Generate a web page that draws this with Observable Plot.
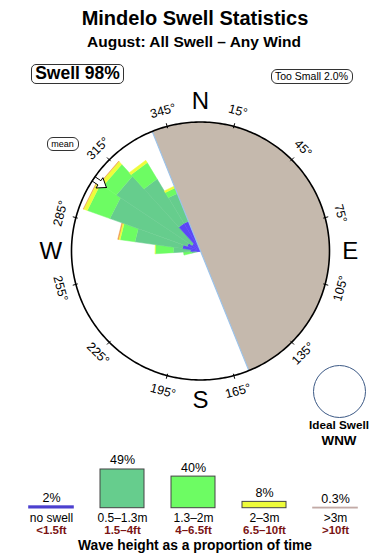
<!DOCTYPE html>
<html>
<head>
<meta charset="utf-8">
<script src="https://cdn.jsdelivr.net/npm/d3@7"></script>
<script src="https://cdn.jsdelivr.net/npm/@observablehq/plot@0.6"></script>
<style>
  html, body { margin: 0; padding: 0; background: #fff; }
  #wrap { position: relative; width: 390px; height: 560px; overflow: hidden;
          font-family: "Liberation Sans", Arial, Helvetica, sans-serif; color: #000; }
  .abs { position: absolute; white-space: nowrap; line-height: 1; }
  .center { transform: translateX(-50%); text-align: center; }
  .box { position: absolute; box-sizing: border-box; border: 1px solid #333; border-radius: 5px;
         display: flex; align-items: center; justify-content: center; line-height: 1; white-space: nowrap; }
</style>
</head>
<body>
<div id="wrap">
  <div class="abs center" style="left:195px; top:8px; font-size:20px; font-weight:bold;">Mindelo Swell Statistics</div>
  <div class="abs center" style="left:194px; top:33.5px; font-size:15.5px; font-weight:bold;">August: All Swell – Any Wind</div>
  <div class="box" style="left:31px; top:63.5px; width:93px; height:20.5px; font-size:17.5px; font-weight:bold;">Swell 98%</div>
  <div class="box" style="left:270.5px; top:68.5px; width:82px; height:15px; font-size:10.5px; border-radius:6px;">Too Small 2.0%</div>
  <div class="box" style="left:46.5px; top:137px; width:32px; height:14px; font-size:9px; border-radius:6px;">mean</div>
  <div style="position:absolute; left:313px; top:364.5px; width:53px; height:53px; box-sizing:border-box; border:1px solid #3d5a86; border-radius:50%;"></div>
  <div class="abs center" style="left:339px; top:418.6px; font-size:11.7px; font-weight:bold;">Ideal Swell</div>
  <div class="abs center" style="left:339px; top:433.7px; font-size:13.4px; font-weight:bold;">WNW</div>
  <div class="abs center" style="left:195px; top:538.5px; font-size:13.8px; font-weight:bold;">Wave height as a proportion of time</div>
</div>
<script>
// ---------- data ----------
const heightClasses = ["no swell", "0.5–1.3m", "1.3–2m", "2–3m", ">3m"];
const feetLabels = ["<1.5ft", "1.5–4ft", "4–6.5ft", "6.5–10ft", ">10ft"];
const proportion = [2, 49, 40, 8, 0.3];
const proportionLabels = ["2%", "49%", "40%", "8%", "0.3%"];
const roseColors = ["#5b47f7", "#66cd8d", "#6dfc63", "#eefc3a", "#f0a050"];
const legendFill = ["#4c40cf", "#66cd8d", "#6dfc63", "#eefc3a", "#c2aaa6"];
const legendStroke = ["#4c40cf", "#444444", "#444444", "#444444", "#c2aaa6"];

// direction sectors (degrees, clockwise from north)
const sectorFrom = [256, 266.5, 278, 289.7, 303.7, 317.7, 328.9];
const sectorTo   = [266.5, 278, 289.7, 303.7, 317.7, 328.9, 340];
// radial length of each height class per sector (outer circle = 100)
const noSwell   = [3.1, 7.8, 14.0, 10.9, 7.8, 24.8, 24.8];
const h05to13   = [3.9, 13.2, 37.2, 63.6, 70.5, 40.3, 23.3];
const h13to2    = [6.2, 14.0, 11.6, 18.6, 12.4, 14.7, 4.7];
const h2to3     = [0, 0.4, 1.2, 3.1, 3.1, 2.3, 1.6];
const hOver3    = [0, 0, 0.8, 0.4, 0.4, 0, 0];

const landFrom = 338, landTo = 158;   // shaded land half
const meanDir = 304;                  // mean swell direction
const tickDirs = [15, 45, 75, 105, 135, 165, 195, 225, 255, 285, 315, 345];
const compassLetters = ["N", "E", "S", "W"];
const compassDirs = [0, 90, 180, 270];
const R = 100;

// ---------- geometry helpers ----------
const rad = d => d * Math.PI / 180;
const pt = (r, b) => ({x: r * Math.sin(rad(b)), y: r * Math.cos(rad(b))});

const series = [noSwell, h05to13, h13to2, h2to3, hOver3];
const wedges = [];
sectorFrom.forEach((a, i) => {
  const b = sectorTo[i];
  let r0 = 0;
  series.forEach((s, k) => {
    const r1 = r0 + s[i];
    if (s[i] > 0) {
      const id = i + "-" + k;
      for (const [r, ang] of [[r0, a], [r1, a], [r1, b], [r0, b]]) {
        wedges.push({id, color: roseColors[k], ...pt(r, ang)});
      }
    }
    r0 = r1;
  });
});

const land = [{x: 0, y: 0}, ...d3.range(landFrom, landTo + 360 + 0.5, 1).map(b => pt(R, b))];
const landEdge = [pt(R, landFrom), pt(R, landTo)];
const circle = d3.range(0, 361, 1).map(b => pt(R, b));

function arrowPts(dir) {
  const s = Math.sin(rad(dir)), c = Math.cos(rad(dir));
  const P = (al, ac) => ({x: al * s + ac * c, y: al * c - ac * s});
  return [P(88, 0), P(94.5, 4.8), P(94.5, 2), P(100, 2), P(100, -2), P(94.5, -2), P(94.5, -4.8), P(88, 0)];
}
const arrow = arrowPts(meanDir);

const tickRot = b => (b <= 90 ? b : b >= 270 ? b - 360 : b - 180);

// ---------- rose ----------
const rose = Plot.plot({
  width: 390, height: 420, margin: 0,
  x: {domain: [-R, R], range: [71, 329], axis: null},
  y: {domain: [-R, R], range: [379.5, 121.5], axis: null},
  style: {fontFamily: "Liberation Sans, Arial, sans-serif", background: "transparent", overflow: "visible"},
  marks: [
    Plot.line(wedges, {x: "x", y: "y", z: "id", fill: "color", stroke: "color", strokeWidth: 0.5, curve: "linear"}),
    Plot.line(land, {x: "x", y: "y", fill: "#c5b9ad", stroke: "none"}),
    Plot.line(landEdge, {x: "x", y: "y", stroke: "#9cc3ea", strokeWidth: 1.2}),
    Plot.line(arrow, {x: "x", y: "y", fill: "white", stroke: "black", strokeWidth: 1}),
    Plot.line(circle, {x: "x", y: "y", stroke: "black", strokeWidth: 1.6}),
    Plot.link(tickDirs, {
      x1: d => pt(98.5, d).x, y1: d => pt(98.5, d).y,
      x2: d => pt(102.5, d).x, y2: d => pt(102.5, d).y,
      stroke: "black", strokeWidth: 1
    }),
    Plot.text(tickDirs, {
      x: d => pt(112.4, d).x, y: d => pt(112.4, d).y,
      text: d => d + "°", rotate: tickRot, fontSize: 12.5, fill: "black"
    }),
    Plot.text(compassDirs, {
      x: d => pt(116, d).x, y: d => pt(116, d).y,
      text: (d, i) => compassLetters[i], fontSize: 24, fill: "black"
    })
  ]
});
rose.style.position = "absolute";
rose.style.left = "0px";
rose.style.top = "0px";

// ---------- legend bars ----------
const legendData = heightClasses.map((c, i) => ({
  cls: c, feet: feetLabels[i], pct: proportion[i], label: proportionLabels[i],
  fill: legendFill[i], stroke: legendStroke[i]
}));
const legend = Plot.plot({
  width: 390, height: 140, margin: 0,
  x: {type: "band", domain: heightClasses, range: [15.5, 370.5], paddingInner: 0.38, paddingOuter: 0.19, axis: null},
  y: {domain: [0, 50], range: [87.7, 48.2], axis: null},
  style: {fontFamily: "Liberation Sans, Arial, sans-serif", background: "transparent", overflow: "visible"},
  marks: [
    Plot.barY(legendData, {x: "cls", y: "pct", fill: "fill", stroke: "stroke", strokeWidth: d => (d.pct < 5 ? 1.6 : 1)}),
    Plot.text(legendData, {x: "cls", y: "pct", text: "label", dy: -5, lineAnchor: "bottom", fontSize: 12.5, fill: "black"}),
    Plot.text(legendData, {x: "cls", y: 0, text: "cls", dy: 9.6, lineAnchor: "middle", fontSize: 12, fill: "black"}),
    Plot.text(legendData, {x: "cls", y: 0, text: "feet", dy: 22, lineAnchor: "middle", fontSize: 11.5, fontWeight: "bold", fill: "#7a1414"})
  ]
});
legend.style.position = "absolute";
legend.style.left = "0px";
legend.style.top = "420px";

const wrap = document.getElementById("wrap");
wrap.insertBefore(legend, wrap.firstChild);
wrap.insertBefore(rose, wrap.firstChild);
</script>
</body>
</html>
